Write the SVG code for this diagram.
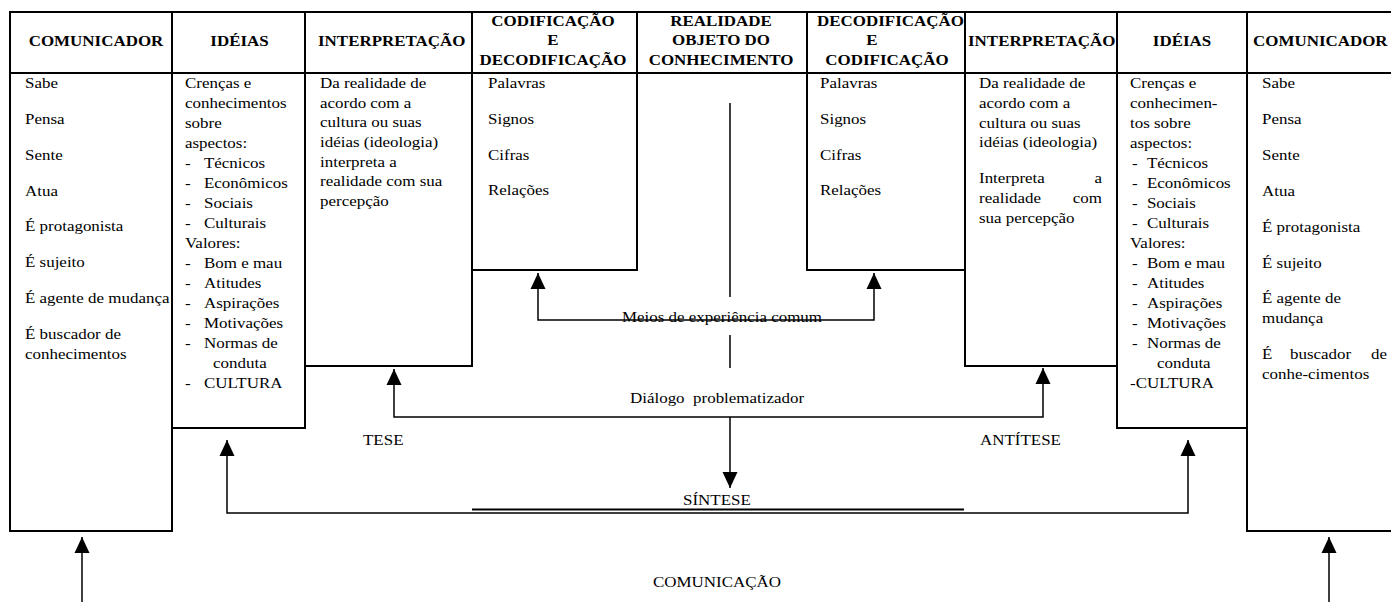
<svg xmlns="http://www.w3.org/2000/svg" width="1391" height="602" viewBox="0 0 1391 602">
<style>
.box{fill:none;stroke:#000;stroke-width:2}
.ln{fill:none;stroke:#000;stroke-width:1.5}
.ar{marker-start:url(#ah);marker-end:url(#ah)}
.ae{marker-end:url(#ah)}
text{font-family:"Liberation Serif","Times New Roman",serif;font-size:15px;fill:#000}
.h{font-weight:bold}
.c{text-anchor:middle}
.e{text-anchor:end}
</style>
<defs>
<marker id="ah" viewBox="0 0 16 16" refX="16" refY="8" markerWidth="16" markerHeight="16" markerUnits="userSpaceOnUse" orient="auto-start-reverse"><path d="M0,0.5 L16,8 L0,15.5 Z" fill="#000"/></marker>
<clipPath id="cDec"><rect x="807" y="12" width="158" height="61"/></clipPath>
<clipPath id="cInt"><rect x="965" y="12" width="152" height="61"/></clipPath>
</defs>
<rect width="1391" height="602" fill="#fff"/>

<g id="comunicador-esq">
<rect class="box" x="10" y="12" width="162" height="519"/>
<line class="box" x1="10" y1="73" x2="172" y2="73"/>
<g transform="translate(96 0) scale(1.13 1)"><text class="h c" y="46">COMUNICADOR</text></g>
<g transform="translate(25 0) scale(1.13 1)">
<text y="88.5">Sabe</text>
<text y="124.3">Pensa</text>
<text y="160">Sente</text>
<text y="195.8">Atua</text>
<text y="231.5">É protagonista</text>
<text y="267.3">É sujeito</text>
<text y="303">É agente de mudança</text>
<text y="338.8">É buscador de</text>
<text y="358.8">conhecimentos</text>
</g>
</g>

<g id="ideias-esq">
<rect class="box" x="172" y="12" width="133" height="416"/>
<line class="box" x1="172" y1="73" x2="305" y2="73"/>
<g transform="translate(239.5 0) scale(1.13 1)"><text class="h c" y="46">IDÉIAS</text></g>
<g transform="translate(185 0) scale(1.13 1)">
<text y="88">Crenças e</text>
<text y="108">conhecimentos</text>
<text y="128">sobre</text>
<text y="148">aspectos:</text>
<text y="168"><tspan x="0">-</tspan><tspan x="16.8">Técnicos</tspan></text>
<text y="188"><tspan x="0">-</tspan><tspan x="16.8">Econômicos</tspan></text>
<text y="208"><tspan x="0">-</tspan><tspan x="16.8">Sociais</tspan></text>
<text y="228"><tspan x="0">-</tspan><tspan x="16.8">Culturais</tspan></text>
<text y="248">Valores:</text>
<text y="268"><tspan x="0">-</tspan><tspan x="16.8">Bom e mau</tspan></text>
<text y="288"><tspan x="0">-</tspan><tspan x="16.8">Atitudes</tspan></text>
<text y="308"><tspan x="0">-</tspan><tspan x="16.8">Aspirações</tspan></text>
<text y="328"><tspan x="0">-</tspan><tspan x="16.8">Motivações</tspan></text>
<text y="348"><tspan x="0">-</tspan><tspan x="16.8">Normas de</tspan></text>
<text x="24.8" y="368">conduta</text>
<text y="388"><tspan x="0">-</tspan><tspan x="16.8">CULTURA</tspan></text>
</g>
</g>

<g id="interpretacao-esq">
<rect class="box" x="305" y="12" width="167" height="354"/>
<line class="box" x1="305" y1="73" x2="472" y2="73"/>
<g transform="translate(318 0) scale(1.13 1)"><text class="h" y="46">INTERPRETAÇÃO</text></g>
<g transform="translate(320 0) scale(1.13 1)">
<text y="88">Da realidade de</text>
<text y="107.7">acordo com a</text>
<text y="127.4">cultura ou suas</text>
<text y="147.1">idéias (ideologia)</text>
<text y="166.8">interpreta a</text>
<text y="186.5">realidade com sua</text>
<text y="206.2">percepção</text>
</g>
</g>

<g id="codificacao">
<rect class="box" x="472" y="12" width="165" height="258"/>
<line class="box" x1="472" y1="73" x2="637" y2="73"/>
<g transform="translate(553 0) scale(1.13 1)">
<text class="h c" y="26">CODIFICAÇÃO</text>
<text class="h c" y="45">E</text>
<text class="h c" y="65">DECODIFICAÇÃO</text>
</g>
<g transform="translate(488 0) scale(1.13 1)">
<text y="88">Palavras</text>
<text y="124">Signos</text>
<text y="160">Cifras</text>
<text y="195">Relações</text>
</g>
</g>

<g id="realidade">
<rect class="box" x="637" y="12" width="170" height="61"/>
<g transform="translate(721 0) scale(1.13 1)">
<text class="h c" y="26">REALIDADE</text>
<text class="h c" y="45">OBJETO DO</text>
<text class="h c" y="65">CONHECIMENTO</text>
</g>
</g>

<g id="decodificacao">
<rect class="box" x="807" y="12" width="158" height="258"/>
<line class="box" x1="807" y1="73" x2="965" y2="73"/>
<g clip-path="url(#cDec)"><g transform="translate(817 0) scale(1.13 1)"><text class="h" y="26">DECODIFICAÇÃO</text></g></g>
<g transform="translate(872 0) scale(1.13 1)"><text class="h c" y="45">E</text></g>
<g transform="translate(887 0) scale(1.13 1)"><text class="h c" y="65">CODIFICAÇÃO</text></g>
<g transform="translate(820 0) scale(1.13 1)">
<text y="88">Palavras</text>
<text y="124">Signos</text>
<text y="160">Cifras</text>
<text y="195">Relações</text>
</g>
</g>

<g id="interpretacao-dir">
<rect class="box" x="965" y="12" width="152" height="354"/>
<line class="box" x1="965" y1="73" x2="1117" y2="73"/>
<g clip-path="url(#cInt)"><g transform="translate(968 0) scale(1.13 1)"><text class="h" y="46">INTERPRETAÇÃO</text></g></g>
<g transform="translate(979 0) scale(1.13 1)">
<text y="88">Da realidade de</text>
<text y="108">acordo com a</text>
<text y="128">cultura ou suas</text>
<text y="147">idéias (ideologia)</text>
<text y="183">Interpreta</text>
<text class="e" x="108.8" y="183">a</text>
<text y="203">realidade</text>
<text class="e" x="108.8" y="203">com</text>
<text y="223">sua percepção</text>
</g>
</g>

<g id="ideias-dir">
<rect class="box" x="1117" y="12" width="130" height="416"/>
<line class="box" x1="1117" y1="73" x2="1247" y2="73"/>
<g transform="translate(1182 0) scale(1.13 1)"><text class="h c" y="46">IDÉIAS</text></g>
<g transform="translate(1130 0) scale(1.13 1)">
<text y="88">Crenças e</text>
<text y="108">conhecimen-</text>
<text y="128">tos sobre</text>
<text y="148">aspectos:</text>
<text y="168"><tspan x="1.8">-</tspan><tspan x="15">Técnicos</tspan></text>
<text y="188"><tspan x="1.8">-</tspan><tspan x="15">Econômicos</tspan></text>
<text y="208"><tspan x="1.8">-</tspan><tspan x="15">Sociais</tspan></text>
<text y="228"><tspan x="1.8">-</tspan><tspan x="15">Culturais</tspan></text>
<text y="248">Valores:</text>
<text y="268"><tspan x="1.8">-</tspan><tspan x="15">Bom e mau</tspan></text>
<text y="288"><tspan x="1.8">-</tspan><tspan x="15">Atitudes</tspan></text>
<text y="308"><tspan x="1.8">-</tspan><tspan x="15">Aspirações</tspan></text>
<text y="328"><tspan x="1.8">-</tspan><tspan x="15">Motivações</tspan></text>
<text y="348"><tspan x="1.8">-</tspan><tspan x="15">Normas de</tspan></text>
<text x="23.9" y="368">conduta</text>
<text y="388">-CULTURA</text>
</g>
</g>

<g id="comunicador-dir">
<path class="box" d="M1392 12 H1247 V531 H1392 M1247 73 H1392"/>
<g transform="translate(1253 0) scale(1.13 1)"><text class="h" y="46">COMUNICADOR</text></g>
<g transform="translate(1262 0) scale(1.13 1)">
<text y="88">Sabe</text>
<text y="124">Pensa</text>
<text y="160.5">Sente</text>
<text y="196">Atua</text>
<text y="232">É protagonista</text>
<text y="268">É sujeito</text>
<text y="303">É agente de</text>
<text y="323">mudança</text>
<text y="359.5">É</text>
<text x="24.8" y="359.5">buscador</text>
<text class="e" x="110.6" y="359.5">de</text>
<text y="379.5">conhe-cimentos</text>
</g>
</g>

<g id="conectores">
<path class="ln" d="M730 103 V297 M730 335 V368"/>
<path class="ln ar" d="M538 273 V320 H874 V273"/>
<path class="ln ar" d="M394 369 V417 H1043 V368"/>
<path class="ln ae" d="M730 417 V488"/>
<path class="ln ar" d="M227 440 V513 H1188 V440"/>
<path d="M472 509.5 H964" fill="none" stroke="#000" stroke-width="2"/>
<path class="ln ae" d="M82 602 V537"/>
<path class="ln ae" d="M1329 602 V537"/>
</g>

<g id="rotulos">
<g transform="translate(622 0) scale(1.13 1)"><text y="322">Meios de experiência comum</text></g>
<g transform="translate(630 0) scale(1.13 1)"><text y="403" xml:space="preserve">Diálogo  problematizador</text></g>
<g transform="translate(363 0) scale(1.13 1)"><text y="445">TESE</text></g>
<g transform="translate(980 0) scale(1.13 1)"><text y="445">ANTÍTESE</text></g>
<g transform="translate(683 0) scale(1.13 1)"><text y="505">SÍNTESE</text></g>
<g transform="translate(653 0) scale(1.13 1)"><text y="587">COMUNICAÇÃO</text></g>
</g>
</svg>
